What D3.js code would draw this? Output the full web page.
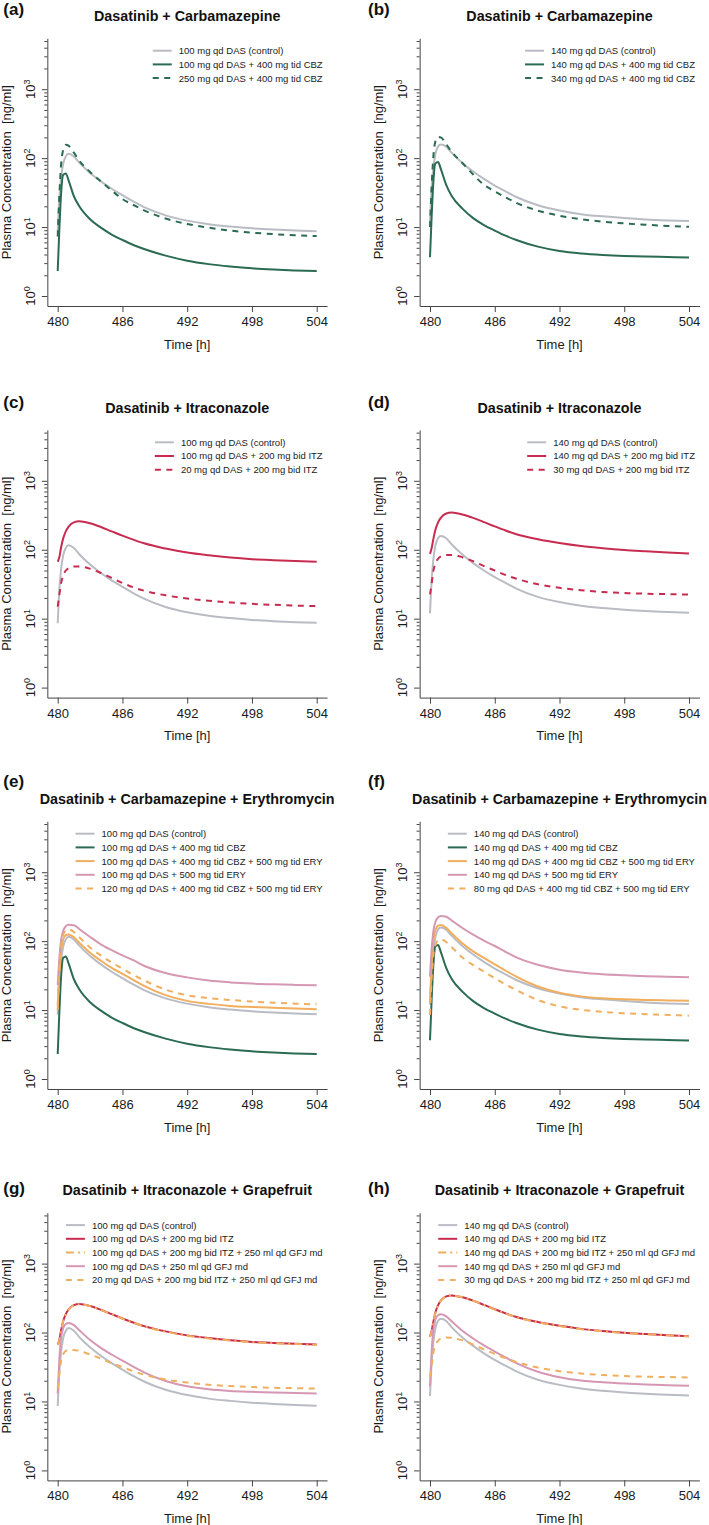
<!DOCTYPE html>
<html>
<head>
<meta charset="utf-8">
<script src="https://cdn.jsdelivr.net/npm/d3@7/dist/d3.min.js"></script>
<style>
  html, body { margin: 0; padding: 0; background: #fff; }
  svg { display: block; }
  text { font-family: "Liberation Sans", Arial, Helvetica, sans-serif; }
</style>
</head>
<body>
<svg id="chart" width="709" height="1525"></svg>
<script>
// ---------------- DATA ----------------
const times = [480, 480.15, 480.3, 480.5, 480.75, 481, 481.5, 482, 483, 484, 485, 486, 487, 488, 490, 492, 494, 496, 498, 500, 502, 504];

const das100 = [8.6, 26, 50, 82, 106, 116, 106, 86, 61, 46, 36, 29, 23.5, 19.5, 14.8, 12.4, 11.0, 10.2, 9.6, 9.2, 8.9, 8.7];
const das140 = [12, 36, 70, 115, 148, 158, 147, 120, 85, 64, 50, 40, 33, 27.3, 20.7, 17.4, 15.4, 14.3, 13.5, 12.9, 12.5, 12.2];

const das100Cbz = [2.3, 9, 28, 57, 60, 48, 28, 20, 13, 9.8, 7.8, 6.5, 5.5, 4.8, 3.85, 3.25, 2.9, 2.68, 2.52, 2.42, 2.35, 2.3];
const das140Cbz = [3.65, 14, 42, 84, 88, 70, 41, 28.5, 18.5, 13.5, 10.7, 8.9, 7.5, 6.5, 5.2, 4.5, 4.15, 3.95, 3.82, 3.74, 3.68, 3.63];
const das250Cbz = [7.3, 28, 75, 130, 157, 152, 120, 92, 63, 46, 34, 25.5, 21, 17.5, 13.3, 11.1, 9.8, 8.9, 8.3, 7.9, 7.6, 7.4];
const das340Cbz = [10, 38, 100, 175, 203, 200, 160, 124, 85, 58, 41, 33, 27, 22.5, 17.3, 14.6, 13, 12, 11.3, 10.8, 10.4, 10.1];

const das100Itz = [67, 78, 105, 145, 185, 215, 250, 259, 242, 214, 185, 160, 140, 124, 104, 91, 83, 77, 73, 70.5, 68.5, 67];
const das140Itz = [87, 105, 140, 195, 250, 290, 335, 346, 325, 290, 252, 218, 190, 168, 142, 125, 113, 105, 99, 95, 91.5, 88.5];
const das20Itz = [15, 22, 32, 42, 50, 54, 57, 57, 53, 46, 39, 33, 28.5, 25.5, 21.8, 19.6, 18.2, 17.2, 16.4, 15.9, 15.5, 15.2];
const das30Itz = [22.5, 32, 48, 63, 74, 80, 84, 84, 78, 68, 58, 50, 43, 38, 31.5, 28, 25.8, 24.4, 23.6, 23, 22.7, 22.4];

const das100Ery = [23, 55, 100, 140, 165, 173, 170, 150, 115, 90, 74, 62, 53, 44, 34.5, 29.8, 26.8, 25.2, 24.2, 23.6, 23.2, 23];
const das140Ery = [30.4, 75, 135, 190, 222, 232, 226, 200, 155, 124, 102, 85, 70, 58, 45.5, 38.5, 35, 33, 31.9, 31, 30.5, 30];
const das100CbzEry = [10, 35, 70, 105, 122, 125, 114, 95, 68, 52, 41, 33.5, 27.5, 22.5, 16.5, 13.6, 12.3, 11.5, 11.1, 10.8, 10.5, 10.3];
const das140CbzEry = [13.5, 45, 95, 145, 168, 171, 156, 130, 93, 71, 57, 46, 37.5, 30.5, 22, 17.8, 15.8, 14.8, 14.3, 14, 13.8, 13.7];
const das120CbzEry = [11.8, 40, 82, 122, 143, 148, 136, 114, 81, 62, 49, 40, 32.5, 27, 19.8, 16.4, 14.9, 14, 13.3, 12.8, 12.4, 12.1];
const das80CbzEry = [8.5, 28, 60, 88, 103, 106, 97, 82, 58, 45, 36, 29, 23.5, 19.5, 14, 11.3, 10.1, 9.4, 9.0, 8.7, 8.5, 8.3];

const das100Gfj = [13, 40, 80, 115, 133, 138, 128, 108, 78, 60, 48, 39, 32, 26.5, 19.8, 16.6, 15.0, 14.2, 13.8, 13.5, 13.3, 13.1];
const das140Gfj = [16.5, 52, 105, 155, 178, 184, 172, 146, 106, 82, 65, 53, 43.5, 36, 27, 22.5, 20.2, 19, 18.2, 17.6, 17.2, 16.9];
const das100ItzGfj = [66, 77, 104, 144, 184, 214, 249, 258, 241, 213, 184, 159, 139, 123, 103, 90, 82, 76.5, 72.5, 70, 68, 66.5];
const das140ItzGfj = [86, 104, 139, 194, 249, 289, 334, 345, 324, 289, 251, 217, 189, 167, 141, 124, 112, 104.5, 98.5, 94.5, 91, 88];
const das20ItzGfj = [15.4, 25, 38, 48, 54, 56, 56, 54, 48, 42, 36, 31.5, 27.5, 24.5, 20.8, 18.8, 17.5, 16.7, 16.2, 15.8, 15.6, 15.4];
const das30ItzGfj = [22.8, 33, 50, 65, 76, 82, 85, 84, 77, 67, 57, 49, 42.5, 37.5, 31, 27.5, 25.5, 24.2, 23.4, 22.9, 22.6, 22.3];

const xTicks = [480, 486, 492, 498, 504];
const yMajorTicks = [1, 10, 100, 1000];
const yTickExponents = ["0", "1", "2", "3"];

const panelLetters = ["(a)", "(b)", "(c)", "(d)", "(e)", "(f)", "(g)", "(h)"];
const panelTitles = [
  "Dasatinib + Carbamazepine", "Dasatinib + Carbamazepine",
  "Dasatinib + Itraconazole", "Dasatinib + Itraconazole",
  "Dasatinib + Carbamazepine + Erythromycin", "Dasatinib + Carbamazepine + Erythromycin",
  "Dasatinib + Itraconazole + Grapefruit", "Dasatinib + Itraconazole + Grapefruit"
];

const legendA = ["100 mg qd DAS (control)", "100 mg qd DAS + 400 mg tid CBZ", "250 mg qd DAS + 400 mg tid CBZ"];
const legendB = ["140 mg qd DAS (control)", "140 mg qd DAS + 400 mg tid CBZ", "340 mg qd DAS + 400 mg tid CBZ"];
const legendC = ["100 mg qd DAS (control)", "100 mg qd DAS + 200 mg bid ITZ", "20 mg qd DAS + 200 mg bid ITZ"];
const legendD = ["140 mg qd DAS (control)", "140 mg qd DAS + 200 mg bid ITZ", "30 mg qd DAS + 200 mg bid ITZ"];
const legendE = ["100 mg qd DAS (control)", "100 mg qd DAS + 400 mg tid CBZ", "100 mg qd DAS + 400 mg tid CBZ + 500 mg tid ERY", "100 mg qd DAS + 500 mg tid ERY", "120 mg qd DAS + 400 mg tid CBZ + 500 mg tid ERY"];
const legendF = ["140 mg qd DAS (control)", "140 mg qd DAS + 400 mg tid CBZ", "140 mg qd DAS + 400 mg tid CBZ + 500 mg tid ERY", "140 mg qd DAS + 500 mg tid ERY", "80 mg qd DAS + 400 mg tid CBZ + 500 mg tid ERY"];
const legendG = ["100 mg qd DAS (control)", "100 mg qd DAS + 200 mg bid ITZ", "100 mg qd DAS + 200 mg bid ITZ + 250 ml qd GFJ md", "100 mg qd DAS + 250 ml qd GFJ md", "20 mg qd DAS + 200 mg bid ITZ + 250 ml qd GFJ md"];
const legendH = ["140 mg qd DAS (control)", "140 mg qd DAS + 200 mg bid ITZ", "140 mg qd DAS + 200 mg bid ITZ + 250 ml qd GFJ md", "140 mg qd DAS + 250 ml qd GFJ md", "30 mg qd DAS + 200 mg bid ITZ + 250 ml qd GFJ md"];

// ---------------- STYLE ----------------
const C = { gray: "#b9bcc3", green: "#2a6b52", red: "#c72c50", orange: "#f0ae5e", pink: "#d597b2" };
const SOLID = null, DASH = "6,5.5", DOTDASH = "8,4,2,4";

const panels = [
  { legend: legendA, series: [[das100, C.gray, SOLID], [das100Cbz, C.green, SOLID], [das250Cbz, C.green, DASH]] },
  { legend: legendB, series: [[das140, C.gray, SOLID], [das140Cbz, C.green, SOLID], [das340Cbz, C.green, DASH]] },
  { legend: legendC, series: [[das100, C.gray, SOLID], [das100Itz, C.red, SOLID], [das20Itz, C.red, DASH]] },
  { legend: legendD, series: [[das140, C.gray, SOLID], [das140Itz, C.red, SOLID], [das30Itz, C.red, DASH]] },
  { legend: legendE, series: [[das100, C.gray, SOLID], [das100Cbz, C.green, SOLID], [das100CbzEry, C.orange, SOLID], [das100Ery, C.pink, SOLID], [das120CbzEry, C.orange, DASH]] },
  { legend: legendF, series: [[das140, C.gray, SOLID], [das140Cbz, C.green, SOLID], [das140CbzEry, C.orange, SOLID], [das140Ery, C.pink, SOLID], [das80CbzEry, C.orange, DASH]] },
  { legend: legendG, series: [[das100, C.gray, SOLID], [das100Itz, C.red, SOLID], [das100ItzGfj, C.orange, DOTDASH], [das100Gfj, C.pink, SOLID], [das20ItzGfj, C.orange, DASH]] },
  { legend: legendH, series: [[das140, C.gray, SOLID], [das140Itz, C.red, SOLID], [das140ItzGfj, C.orange, DOTDASH], [das140Gfj, C.pink, SOLID], [das30ItzGfj, C.orange, DASH]] }
];

// ---------------- LAYOUT ----------------
const colLeft = [47.34, 419.64];
const plotW = 279.72;
const rowY0 = [296, 687.6, 1079, 1470.4];   // pixel y of 10^0
const decade = 68.93;
const letterX = [3.3, 368];
const letterBase = [15, 408, 786.5, 1193.5];
const axisColor = "#444";
const textColor = "#1a1a1a";

const svg = d3.select("#chart");
svg.append("rect").attr("width", 709).attr("height", 1525).attr("fill", "#fff");

const yTicksAll = [];
[1, 10, 100, 1000].forEach(b => { for (let m = 1; m <= 9; m++) { if (m * b <= 5000) yTicksAll.push(m * b); } });

panels.forEach((p, i) => {
  const col = i % 2, row = Math.floor(i / 2);
  const left = colLeft[col], right = left + plotW;
  const y0 = rowY0[row];
  const bottom = y0 + 10, top = y0 - 257.7;

  const x = d3.scaleLinear().domain([479.04, 504.96]).range([left, right]);
  const y = d3.scaleLog()
    .domain([Math.pow(10, -10 / decade), Math.pow(10, 257.7 / decade)])
    .range([bottom, top]);

  const g = svg.append("g");

  // letter + title
  g.append("text").attr("x", letterX[col]).attr("y", letterBase[row])
    .attr("font-size", 17).attr("font-weight", "bold").attr("fill", "#111").text(panelLetters[i]);
  g.append("text").attr("x", (left + right) / 2).attr("y", y0 - 275)
    .attr("text-anchor", "middle").attr("font-size", 14.3).attr("font-weight", "bold")
    .attr("fill", "#111").text(panelTitles[i]);

  // x axis
  const xa = g.append("g").attr("transform", `translate(0,${bottom})`)
    .call(d3.axisBottom(x).tickValues(xTicks).tickSize(6).tickSizeOuter(0).tickPadding(4.8).tickFormat(d3.format("d")));
  xa.select(".domain").attr("stroke", axisColor);
  xa.selectAll(".tick line").attr("stroke", axisColor);
  xa.selectAll(".tick text").attr("font-size", 13).attr("fill", textColor)
    .attr("font-family", "'Liberation Sans', Arial, sans-serif");
  g.append("text").attr("x", (left + right) / 2).attr("y", y0 + 52.6).attr("text-anchor", "middle")
    .attr("font-size", 13).attr("fill", textColor).text("Time [h]");

  // y axis
  const ya = g.append("g").attr("transform", `translate(${left},0)`)
    .call(d3.axisLeft(y).tickValues(yTicksAll).tickFormat("").tickSizeOuter(0));
  ya.select(".domain").attr("stroke", axisColor);
  ya.selectAll(".tick line").attr("stroke", axisColor)
    .attr("x2", d => yMajorTicks.includes(d) ? -5.5 : -3);
  yMajorTicks.forEach((v, k) => {
    const t = g.append("text")
      .attr("transform", `translate(${left - 12.5},${y(v)}) rotate(-90)`)
      .attr("text-anchor", "middle").attr("font-size", 13).attr("fill", textColor);
    t.append("tspan").text("10");
    t.append("tspan").attr("dy", -5).attr("font-size", 9).text(yTickExponents[k]);
  });
  g.append("text")
    .attr("transform", `translate(${left - 36.5},${(top + bottom) / 2}) rotate(-90)`)
    .attr("text-anchor", "middle").attr("font-size", 13).attr("fill", textColor)
    .attr("xml:space", "preserve").style("white-space", "pre")
    .text("Plasma Concentration  [ng/ml]");

  // curves
  const line = d3.line().x((d, j) => x(times[j])).y(d => y(d)).curve(d3.curveMonotoneX);
  p.series.forEach(([vals, color, dash]) => {
    const path = g.append("path").datum(vals).attr("d", line)
      .attr("fill", "none").attr("stroke", color).attr("stroke-width", 2)
      .attr("stroke-linejoin", "round");
    if (dash) path.attr("stroke-dasharray", dash);
  });

  // legend
  const lg = g.append("g");
  const rowC0 = y0 - 245.3, rowStep = 13.7;
  const texts = p.legend.map((lab, k) => lg.append("text").attr("y", rowC0 + k * rowStep + 3.4)
    .attr("font-size", 9.5).attr("fill", "#222").text(lab));
  const maxW = d3.max(texts, t => t.node().getComputedTextLength());
  const tx = right - 4.4 - maxW;
  texts.forEach(t => t.attr("x", tx));
  p.series.forEach(([vals, color, dash], k) => {
    const l = lg.append("line").attr("x1", tx - 26).attr("x2", tx - 7)
      .attr("y1", rowC0 + k * rowStep).attr("y2", rowC0 + k * rowStep)
      .attr("stroke", color).attr("stroke-width", 2);
    if (dash) l.attr("stroke-dasharray", dash);
  });
});
</script>
</body>
</html>
